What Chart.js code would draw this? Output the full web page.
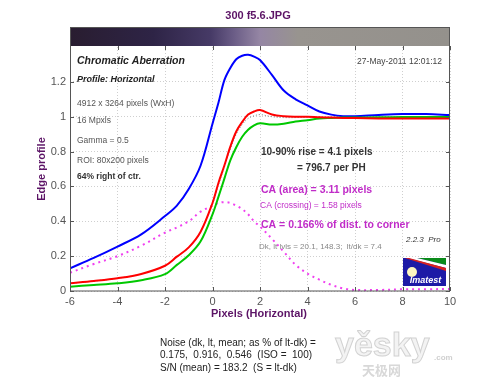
<!DOCTYPE html>
<html>
<head>
<meta charset="utf-8">
<script src="https://cdn.jsdelivr.net/npm/chart.js@4/dist/chart.umd.min.js"></script>
<style>
  body { margin: 0; background: #fff; }
  canvas { display: block; }
</style>
</head>
<body>
<canvas id="myChart" width="500" height="384"></canvas>
<script>
// edge profile
const pixels = [-6, -5, -4, -3, -2, -1.5, -1, -0.5, 0, 0.25, 0.5, 0.75, 1, 1.25, 1.5, 1.75, 2, 2.5, 3, 3.5, 4, 4.5, 5, 5.5, 6, 7, 8, 9, 10];
const blueEdge = [0.13, 0.19, 0.255, 0.325, 0.43, 0.49, 0.585, 0.72, 0.96, 1.08, 1.21, 1.28, 1.33, 1.35, 1.355, 1.345, 1.325, 1.24, 1.15, 1.10, 1.065, 1.03, 1.012, 1.003, 1.003, 1.01, 1.015, 1.015, 1.01];
const redEdge = [0.044, 0.057, 0.073, 0.098, 0.145, 0.197, 0.25, 0.34, 0.505, 0.62, 0.72, 0.828, 0.915, 0.97, 1.012, 1.03, 1.038, 1.013, 1.003, 1.0, 1.0, 0.997, 0.995, 0.993, 0.992, 0.99, 0.99, 0.99, 0.99];
const greenEdge = [0.025, 0.034, 0.044, 0.062, 0.097, 0.15, 0.205, 0.285, 0.44, 0.54, 0.645, 0.75, 0.825, 0.885, 0.925, 0.95, 0.962, 0.955, 0.96, 0.972, 0.98, 0.99, 0.993, 0.995, 0.995, 0.997, 0.998, 0.998, 0.998];
const lumEdge = [0.044, 0.057, 0.073, 0.098, 0.145, 0.197, 0.25, 0.34, 0.5, 0.61, 0.71, 0.815, 0.9, 0.955, 0.99, 1.005, 1.012, 1.0, 0.995, 0.995, 0.997, 0.998, 0.998, 0.998, 0.998, 0.998, 0.998, 0.998, 0.998];
const caDiff = [0.105, 0.155, 0.20, 0.26, 0.335, 0.365, 0.40, 0.455, 0.49, 0.505, 0.51, 0.505, 0.49, 0.47, 0.44, 0.40, 0.37, 0.30, 0.225, 0.15, 0.10, 0.065, 0.035, 0.015, 0.006, 0.006, 0.01, 0.01, 0.012];

const xTicks = [-6, -4, -2, 0, 2, 4, 6, 8, 10];
const yTicks = [0, 0.2, 0.4, 0.6, 0.8, 1, 1.2];
const yTickLabels = ['0', '0.2', '0.4', '0.6', '0.8', '1', '1.2'];

const FONT = '"Liberation Sans", Arial, sans-serif';
const PURPLE = '#5c1466';
const MAGENTA = '#c02cc8';

function pts(vals) {
    return pixels.map((x, i) => ({ x: x, y: vals[i] }));
}

function text(ctx, str, x, y, font, color, align) {
    ctx.font = font;
    ctx.fillStyle = color;
    ctx.textAlign = align || 'left';
    ctx.textBaseline = 'middle';
    ctx.fillText(str, x, y);
}

const decorPlugin = {
    id: 'decor',
    afterDraw(chart) {
        const ctx = chart.ctx;
        const a = chart.chartArea;
        const xs = chart.scales.x, ys = chart.scales.y;
        ctx.save();

        // edge image strip above the plot
        const top = 27;
        const g = ctx.createLinearGradient(a.left, 0, a.right, 0);
        g.addColorStop(0, '#291d30');
        g.addColorStop(0.22, '#2e2446');
        g.addColorStop(0.37, '#463a66');
        g.addColorStop(0.43, '#6a5c86');
        g.addColorStop(0.5, '#9586a4');
        g.addColorStop(0.6, '#98948f');
        g.addColorStop(1, '#94918c');
        ctx.fillStyle = g;
        ctx.fillRect(a.left, top, a.right - a.left, a.top - 1 - top);

        // box
        ctx.strokeStyle = '#555';
        ctx.lineWidth = 1;
        ctx.strokeRect(a.left + 0.5, top + 0.5, a.right - a.left - 1, a.bottom - top - 0.5);

        // inward tick marks
        ctx.beginPath();
        xTicks.forEach(v => {
            const px = Math.round(xs.getPixelForValue(v)) + 0.5;
            ctx.moveTo(px, a.bottom); ctx.lineTo(px, a.bottom - 4);
            ctx.moveTo(px, a.top - 1); ctx.lineTo(px, a.top + 3);
        });
        yTicks.forEach(v => {
            const py = Math.round(ys.getPixelForValue(v)) + 0.5;
            ctx.moveTo(a.left, py); ctx.lineTo(a.left + 4, py);
            ctx.moveTo(a.right, py); ctx.lineTo(a.right - 4, py);
        });
        ctx.stroke();

        // titles
        text(ctx, '300 f5.6.JPG', 258, 15.5, 'bold 11px ' + FONT, PURPLE, 'center');
        text(ctx, 'Pixels (Horizontal)', 259, 313.5, 'bold 11px ' + FONT, PURPLE, 'center');
        ctx.save();
        ctx.translate(42, 169);
        ctx.rotate(-Math.PI / 2);
        text(ctx, 'Edge profile', 0, 0, 'bold 11px ' + FONT, PURPLE, 'center');
        ctx.restore();

        // info block, left
        text(ctx, 'Chromatic Aberration', 77, 61, 'italic bold 10.5px ' + FONT, '#222');
        text(ctx, 'Profile: Horizontal', 77, 79.5, 'italic bold 9px ' + FONT, '#222');
        text(ctx, '4912 x 3264 pixels (WxH)', 77, 103.5, '8.5px ' + FONT, '#555');
        text(ctx, '16 Mpxls', 77, 120.5, '8.5px ' + FONT, '#555');
        text(ctx, 'Gamma = 0.5', 77, 141, '8.5px ' + FONT, '#555');
        text(ctx, 'ROI: 80x200 pixels', 77, 160.5, '8.5px ' + FONT, '#555');
        text(ctx, '64% right of ctr.', 77, 176.5, 'bold 8.5px ' + FONT, '#333');
        text(ctx, '27-May-2011 12:01:12', 442, 61.5, '8.5px ' + FONT, '#444', 'right');

        // results block
        text(ctx, '10-90% rise = 4.1 pixels', 261, 152, 'bold 10px ' + FONT, '#333');
        text(ctx, '= 796.7 per PH', 297, 168.5, 'bold 10px ' + FONT, '#333');
        text(ctx, 'CA (area) = 3.11 pixels', 261, 190, 'bold 10.5px ' + FONT, MAGENTA);
        text(ctx, 'CA (crossing) = 1.58 pixels', 260, 206, '8.5px ' + FONT, MAGENTA);
        text(ctx, 'CA = 0.166% of dist. to corner', 261, 225, 'bold 10.5px ' + FONT, MAGENTA);
        text(ctx, 'Dk, lt lvls = 20.1, 148.3;  lt/dk = 7.4', 259, 246.5, '8px ' + FONT, '#888');
        text(ctx, '2.2.3  Pro', 406, 240, 'italic 8px ' + FONT, '#333');

        // Imatest logo
        const lx = 403, ly = 258, lw = 43, lh = 28;
        ctx.fillStyle = '#1d1aa6';
        ctx.fillRect(lx, ly, lw, lh);
        ctx.fillStyle = '#0a8a1a';
        ctx.beginPath();
        ctx.moveTo(lx + 14, ly); ctx.lineTo(lx + lw, ly); ctx.lineTo(lx + lw, ly + 7);
        ctx.closePath(); ctx.fill();
        ctx.fillStyle = '#ffffff';
        ctx.beginPath();
        ctx.moveTo(lx + 4, ly); ctx.lineTo(lx + 14, ly); ctx.lineTo(lx + lw, ly + 7); ctx.lineTo(lx + lw, ly + 10);
        ctx.closePath(); ctx.fill();
        ctx.fillStyle = '#d82020';
        ctx.beginPath();
        ctx.moveTo(lx + 2, ly); ctx.lineTo(lx + 6, ly); ctx.lineTo(lx + lw, ly + 10); ctx.lineTo(lx + lw, ly + 13);
        ctx.closePath(); ctx.fill();
        ctx.fillStyle = '#fdf6c0';
        ctx.beginPath();
        ctx.arc(lx + 9, ly + 14, 5, 0, Math.PI * 2);
        ctx.fill();
        text(ctx, 'Imatest', lx + lw / 2 + 1, ly + 23, 'italic bold 9px ' + FONT, '#fff', 'center');

        // noise summary below the plot
        text(ctx, 'Noise (dk, lt, mean; as % of lt-dk) =', 160, 343, '10px ' + FONT, '#222');
        text(ctx, '0.175,  0.916,  0.546  (ISO =  100)', 160, 355.5, '10px ' + FONT, '#222');
        text(ctx, 'S/N (mean) = 183.2  (S = lt-dk)', 160, 368, '10px ' + FONT, '#222');

        // watermark
        ctx.font = 'bold 34px ' + FONT;
        ctx.textAlign = 'left';
        ctx.textBaseline = 'alphabetic';
        ctx.fillStyle = '#f3f3f3';
        ctx.strokeStyle = '#d2d2d2';
        ctx.lineWidth = 1;
        ctx.fillText('yěsky', 335, 356);
        ctx.strokeText('yěsky', 335, 356);
        text(ctx, '.com', 434, 358, 'bold 8px ' + FONT, '#d0d0d0');
        text(ctx, '天极网', 362, 370, 'bold 13px "Noto Sans CJK SC", sans-serif', '#d8d8d8');

        ctx.restore();
    }
};

const lineStyle = { pointRadius: 0, fill: false, tension: 0.35 };

new Chart(document.getElementById('myChart'), {
    type: 'line',
    data: {
        datasets: [
            Object.assign({ label: 'Red', data: pts(redEdge), borderColor: '#ff0000', borderWidth: 2, order: 1 }, lineStyle),
            Object.assign({ label: 'Green', data: pts(greenEdge), borderColor: '#00c800', borderWidth: 2, order: 2 }, lineStyle),
            Object.assign({ label: 'Blue', data: pts(blueEdge), borderColor: '#0000ff', borderWidth: 2, order: 3 }, lineStyle),
            Object.assign({ label: 'Lum', data: pts(lumEdge), borderColor: '#777', borderWidth: 1, borderDash: [1, 2], order: 4 }, lineStyle),
            Object.assign({ label: 'CA', data: pts(caDiff), borderColor: '#f040f0', borderWidth: 2, borderDash: [2, 4], order: 5 }, lineStyle)
        ]
    },
    options: {
        responsive: false,
        animation: false,
        layout: { padding: { left: 0, right: 50, top: 47, bottom: 73 } },
        plugins: { legend: { display: false }, tooltip: { enabled: false } },
        scales: {
            x: {
                type: 'linear',
                min: -6,
                max: 10,
                afterBuildTicks: s => { s.ticks = xTicks.map(v => ({ value: v })); },
                afterFit: s => { s.height = 20; },
                ticks: { color: '#555', padding: 4, font: { family: FONT, size: 11 } },
                grid: { color: '#cfcfcf', drawTicks: false },
                border: { display: false, dash: [1, 2] }
            },
            y: {
                min: 0,
                max: 1.4,
                afterBuildTicks: s => { s.ticks = yTicks.map(v => ({ value: v })); },
                afterFit: s => { s.width = 70; },
                ticks: {
                    color: '#555', padding: 4, font: { family: FONT, size: 11 },
                    callback: (v, i) => yTickLabels[i]
                },
                grid: { color: '#cfcfcf', drawTicks: false },
                border: { display: false, dash: [1, 2] }
            }
        }
    },
    plugins: [decorPlugin]
});
</script>
</body>
</html>
